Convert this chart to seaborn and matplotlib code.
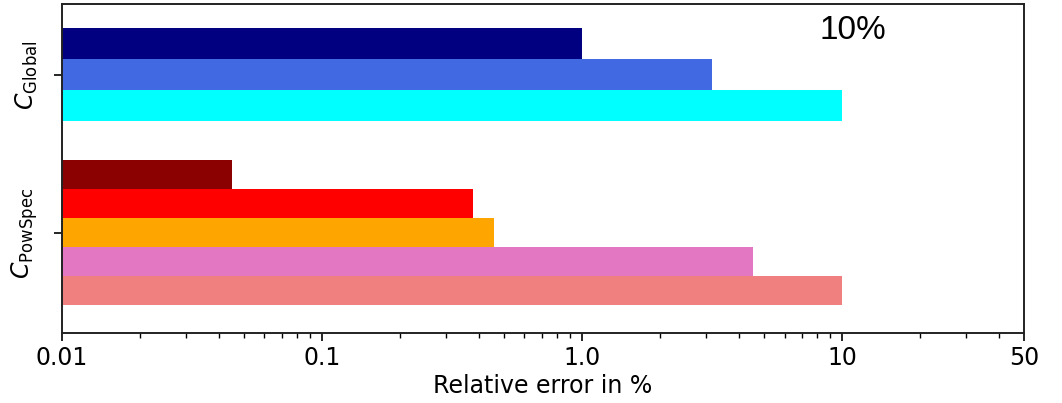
import numpy as np
import pandas as pd
import matplotlib
matplotlib.use("Agg")
import matplotlib.pyplot as plt
from matplotlib.ticker import FixedLocator, FixedFormatter, NullFormatter
import seaborn as sns

# Relative errors (%) of each estimate, per coefficient group
group_labels = [r"$C_{\mathrm{Global}}$", r"$C_{\mathrm{PowSpec}}$"]
global_errors = [1.0, 3.16, 10.0]
powspec_errors = [0.045, 0.38, 0.46, 4.55, 10.0]

tick_values = [0.01, 0.1, 1.0, 10, 50]
tick_labels = ["0.01", "0.1", "1.0", "10", "50"]
annotation = "10%"

# Styling
global_colors = ["#000080", "#4169E1", "#00FFFF"]
powspec_colors = ["#8B0000", "#FF0000", "#FFA500", "#E377C2", "#F08080"]

sns.set_style("ticks")
plt.rcParams["font.family"] = ["DejaVu Sans"]
plt.rcParams["mathtext.fontset"] = "dejavusans"
for key in ("text.color", "axes.labelcolor", "xtick.color", "ytick.color"):
    plt.rcParams[key] = "black"


def group_frame(center, errors, step):
    n = len(errors)
    offsets = (np.arange(n) - (n - 1) / 2) * step
    return pd.DataFrame({
        "pos": center + offsets,
        "error": errors,
        "member": [f"m{i}" for i in range(n)],
    })


fig = plt.figure(figsize=(10.62, 4.03), dpi=100)
ax = fig.add_axes([0.0584, 0.1737, 0.9058, 0.8164])

for center, errors, colors, step in [
    (0, global_errors, global_colors, 0.196),
    (1, powspec_errors, powspec_colors, 0.1835),
]:
    df = group_frame(center, errors, step)
    sns.barplot(
        data=df, x="error", y="pos", hue="member", palette=colors,
        orient="y", native_scale=True, dodge=False, width=1.0,
        legend=False, saturation=1, linewidth=0, ax=ax,
    )

ax.set_xscale("log")
ax.set_xlim(0.01, 50)
ax.set_ylim(1.633, -0.449)

minor = [m * 10.0 ** e for e in range(-2, 1) for m in range(2, 10)] + [20, 30, 40]
ax.xaxis.set_major_locator(FixedLocator(tick_values))
ax.xaxis.set_major_formatter(FixedFormatter(tick_labels))
ax.xaxis.set_minor_locator(FixedLocator(minor))
ax.xaxis.set_minor_formatter(NullFormatter())

ax.set_yticks([0, 1])
ax.set_yticklabels(group_labels, rotation=90, va="center")
ax.yaxis.set_minor_locator(FixedLocator([]))

ax.tick_params(axis="both", which="major", direction="out", length=6,
               width=1.2, labelsize=17, color="black", labelcolor="black")
ax.tick_params(axis="x", which="minor", direction="out", length=3.5,
               width=1.0, color="black")
ax.tick_params(axis="y", which="major", pad=10)

for spine in ax.spines.values():
    spine.set_visible(True)
    spine.set_linewidth(1.4)
    spine.set_color("#222222")

ax.set_xlabel("Relative error in %", fontsize=17, labelpad=3, color="black")
ax.set_ylabel("")

ax.text(0.822, 0.918, annotation, transform=ax.transAxes, ha="center",
        va="center", fontsize=24, color="black",
        family=["Liberation Sans", "DejaVu Sans"])

fig.savefig("out.png", dpi=100)
